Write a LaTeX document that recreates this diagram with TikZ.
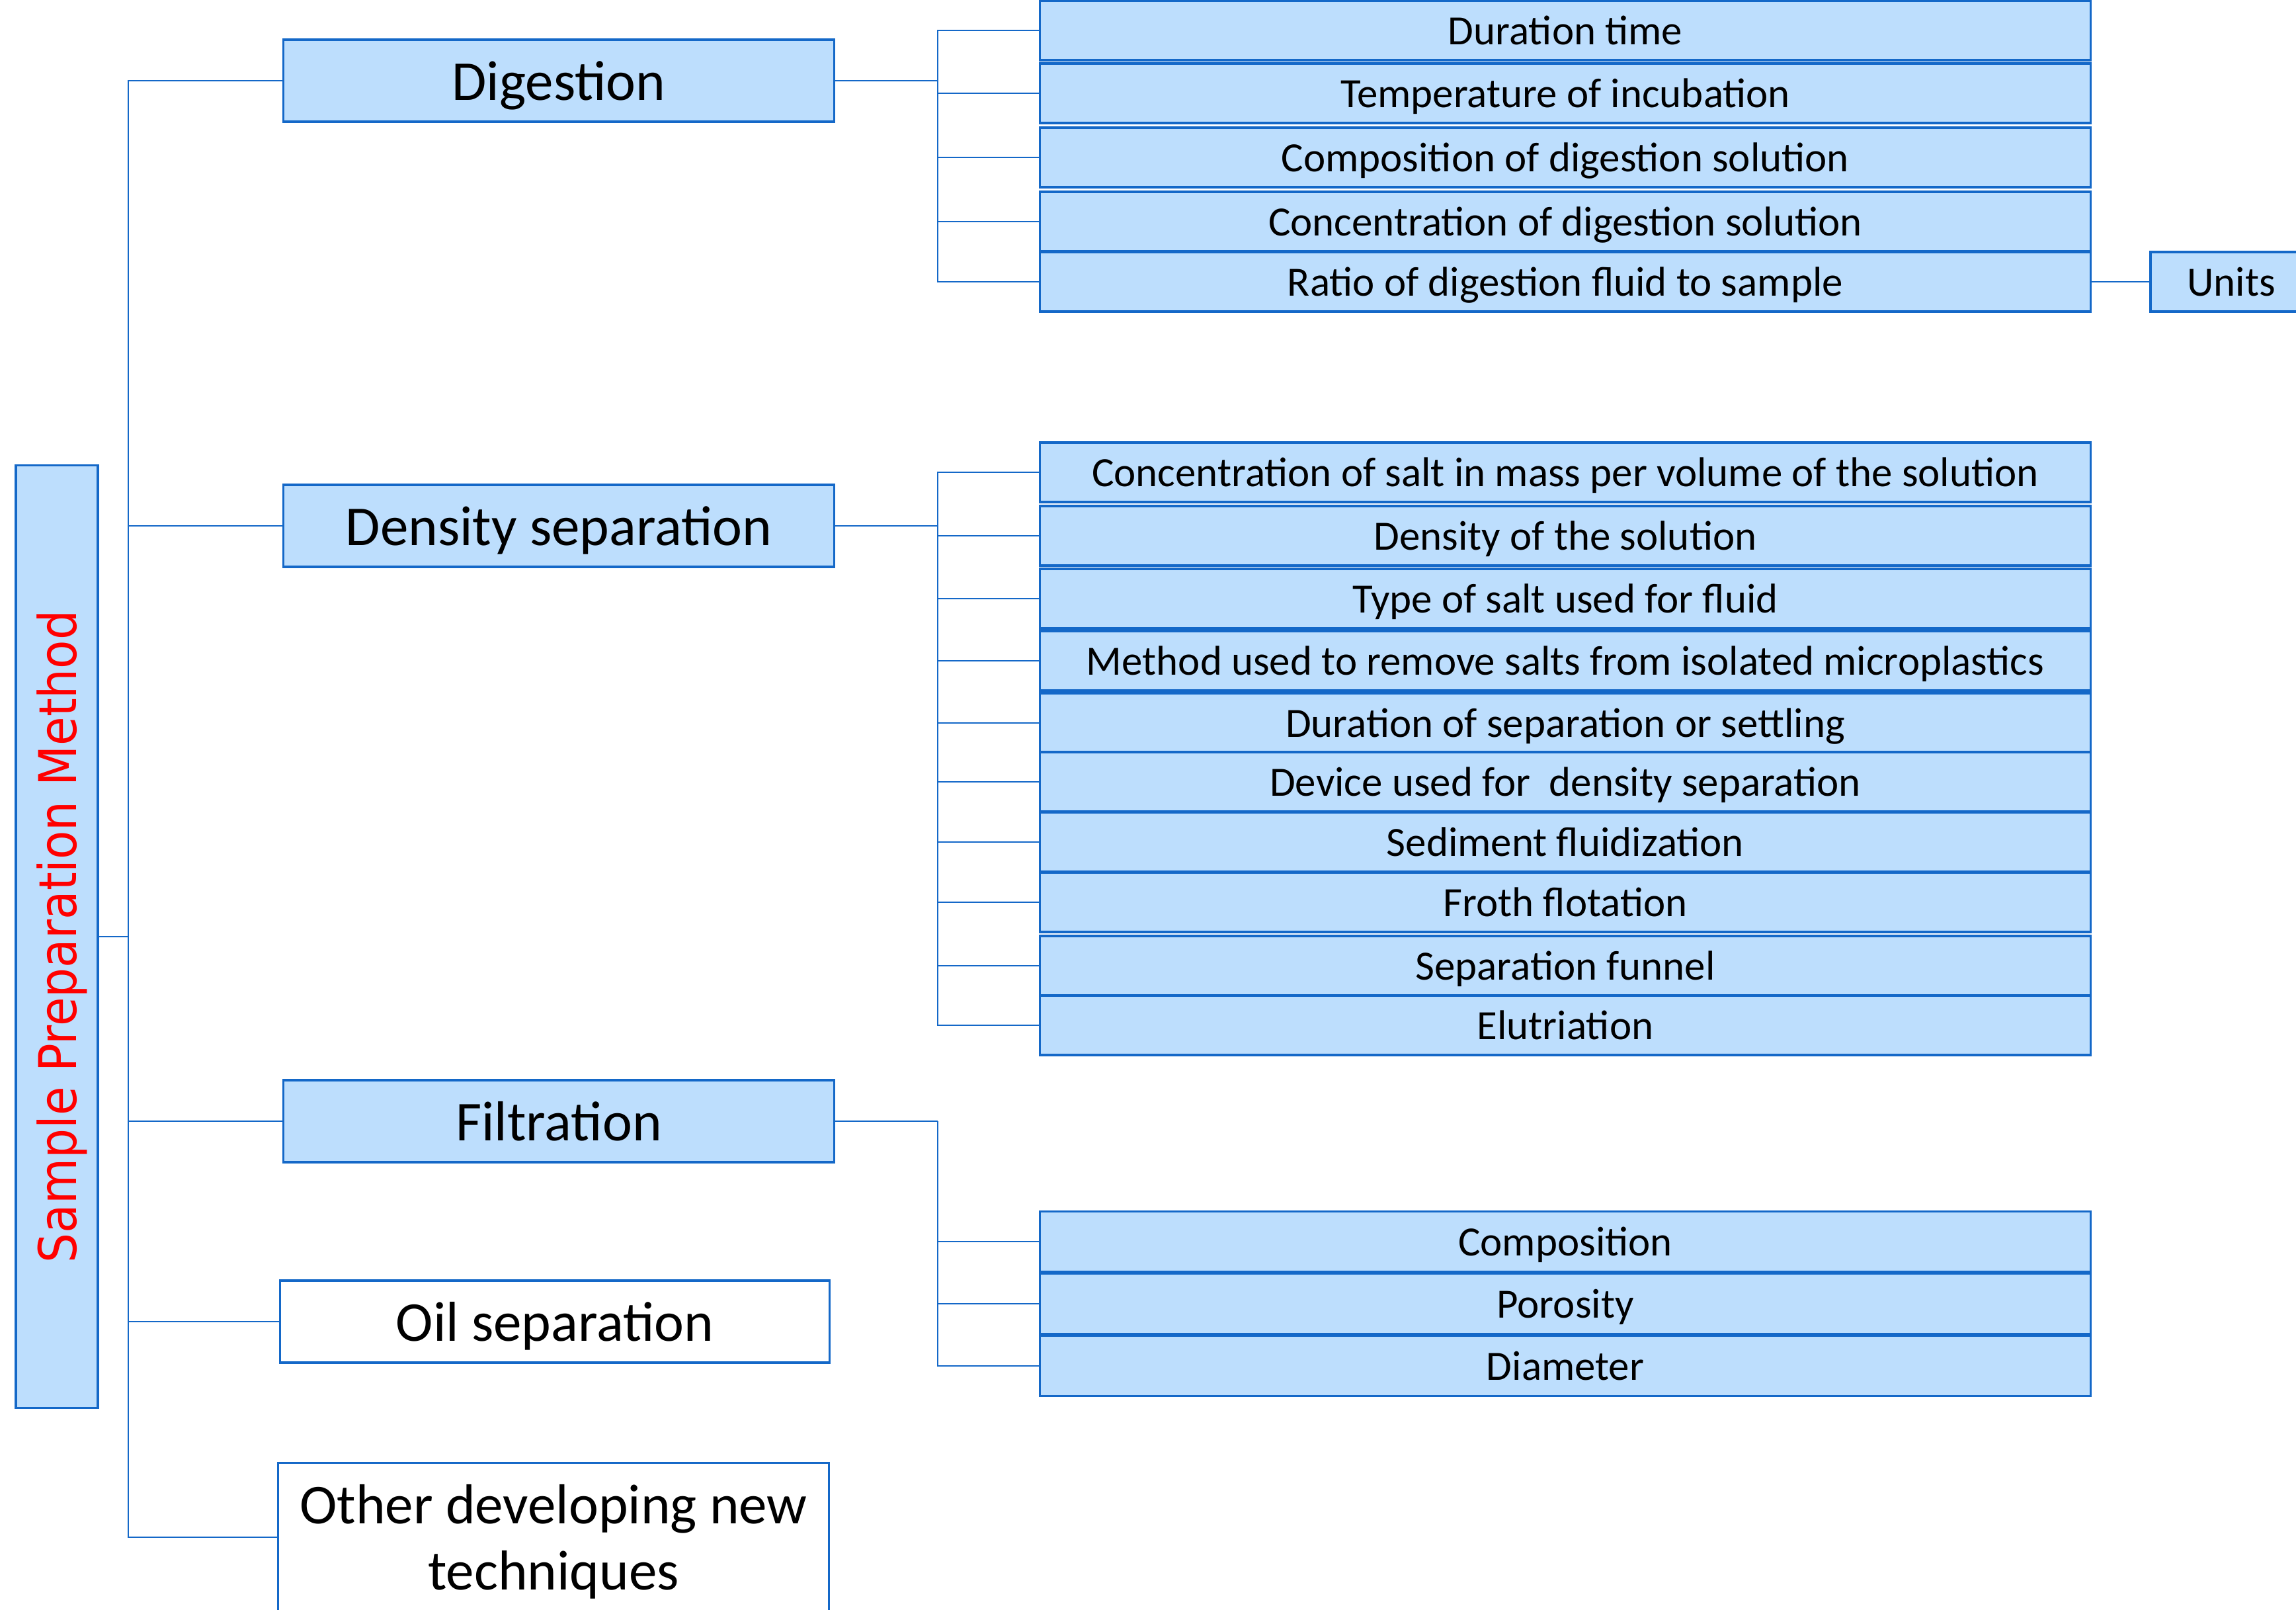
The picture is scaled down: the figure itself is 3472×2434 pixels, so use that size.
\documentclass[tikz,border=0pt]{standalone}
\usepackage{fontspec}
\setmainfont{Carlito}
\newfontfamily\rootfont[FakeStretch=0.9]{DejaVu Sans}
\definecolor{boxblue}{RGB}{20,104,200}
\definecolor{boxfill}{RGB}{189,222,253}
\begin{document}
\begin{tikzpicture}[x=0.01cm,y=-0.01cm,
  box/.style={draw=boxblue,line width=0.9pt,fill=boxfill,inner sep=0pt,align=center,text depth=0pt},
  topic/.style={box,minimum width=8.32cm,minimum height=1.24cm,font=\fontsize{24.2}{28.5}\selectfont},
  plaintopic/.style={topic,fill=white},
  leaf/.style={box,minimum width=15.88cm,font=\fontsize{17.9}{21.5}\selectfont},
  conn/.style={draw=boxblue,line width=0.7pt}]
\useasboundingbox (0,0) rectangle (3472,2434);

% root
\node[box,rotate=90,minimum width=14.24cm,minimum height=1.24cm,text=red,
  font=\rootfont\fontsize{22.4}{26}\selectfont] (root) at (86,1416) {Sample Preparation Method};

% first level
\node[topic] (dig) at (845,122) {Digestion};
\node[topic] (den) at (845,795) {Density separation};
\node[topic] (fil) at (845,1695) {Filtration};
\node[plaintopic,minimum width=8.31cm] (oil) at (839,1998) {Oil separation};
\node[plaintopic,minimum height=2.25cm] (oth) at (837,2324) {Other developing new\\techniques};

% digestion parameters
\begin{scope}[every node/.style={leaf,minimum height=0.9cm}]
\node (d1) at (2367,46) {Duration time};
\node (d2) at (2367,141) {Temperature of incubation};
\node (d3) at (2367,238) {Composition of digestion solution};
\node (d4) at (2367,335) {Concentration of digestion solution};
\node (d5) at (2367,426) {Ratio of digestion fluid to sample};
\end{scope}
\node[box,minimum width=2.44cm,minimum height=0.9cm,font=\fontsize{17.9}{21.5}\selectfont] (u) at (3374,426) {Units};

% density separation parameters
\begin{scope}[every node/.style={leaf,minimum height=0.9cm}]
\node (s1) at (2367,714) {Concentration of salt in mass per volume of the solution};
\node (s2) at (2367,810) {Density of the solution};
\node (s3) at (2367,905) {Type of salt used for fluid};
\node (s4) at (2367,999) {Method used to remove salts from isolated microplastics};
\node (s5) at (2367,1093) {Duration of separation or settling};
\node (s6) at (2367,1182) {Device used for~ density separation};
\node (s7) at (2367,1273) {Sediment fluidization};
\node (s8) at (2367,1364) {Froth flotation};
\node (s9) at (2367,1460) {Separation funnel};
\node (s10) at (2367,1550) {Elutriation};
\end{scope}

% filtration parameters
\begin{scope}[every node/.style={leaf,minimum height=0.91cm}]
\node (f1) at (2367,1877) {Composition};
\node (f2) at (2367,1971) {Porosity};
\node (f3) at (2367,2065) {Diameter};
\end{scope}

% trunk from the root
\coordinate (tk) at (194,1416);
\foreach \n in {dig,den,fil,oil,oth} \draw[conn] (root.south) -- (tk) |- (\n.west);

% brackets to the parameters
\coordinate (bd) at (1418,122);
\draw[conn] (dig.east) -- (bd);
\foreach \n in {d1,d2,d3,d4,d5} \draw[conn] (bd) |- (\n.west);
\draw[conn] (d5.east) -- (u.west);

\coordinate (bs) at (1418,795);
\draw[conn] (den.east) -- (bs);
\foreach \n in {s1,s2,s3,s4,s5,s6,s7,s8,s9,s10} \draw[conn] (bs) |- (\n.west);

\coordinate (bf) at (1418,1695);
\draw[conn] (fil.east) -- (bf);
\foreach \n in {f1,f2,f3} \draw[conn] (bf) |- (\n.west);
\end{tikzpicture}
\end{document}
